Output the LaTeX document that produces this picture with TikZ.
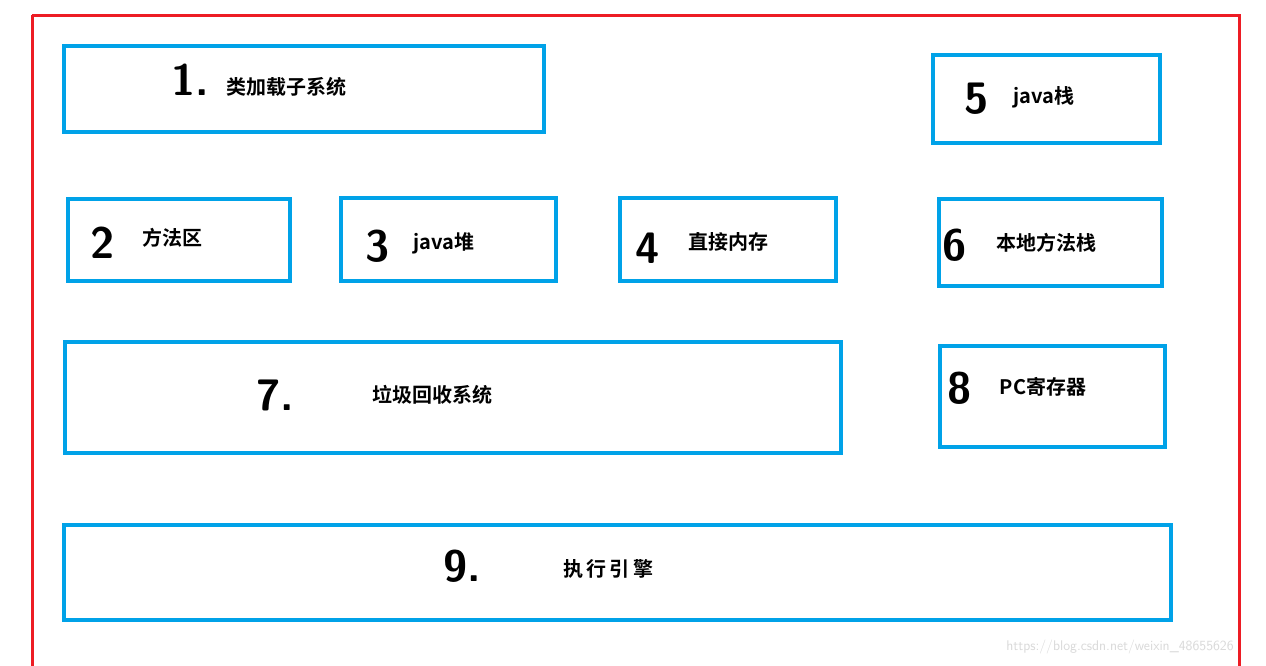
\documentclass[tikz,border=0pt]{standalone}
\usepackage{fontspec}
\newfontfamily\cjk{Noto Sans CJK SC}[BoldFont={* Bold}]
\definecolor{bl}{RGB}{0,162,232}
\definecolor{rd}{RGB}{237,28,36}
\begin{document}
\begin{tikzpicture}[x=1pt,y=-1pt,
  box/.style={draw=bl,line width=3.5pt},
  lab/.style={font=\cjk\bfseries\fontsize{20}{24}\selectfont,anchor=center},
  num/.style={font=\sffamily\bfseries\fontsize{44}{46}\selectfont,anchor=center}]
\useasboundingbox[fill=white] (0,0) rectangle (1266,665);
\draw[rd,line width=3pt] (32,15) -- (1239,15) -- (1239,670) (32,15) -- (32,670);
\draw[box] (64,46) rectangle (544,132);
\draw[box] (933,55) rectangle (1160,143);
\draw[box] (68,199) rectangle (290,281);
\draw[box] (341,198) rectangle (556,281);
\draw[box] (620,198) rectangle (836,281);
\draw[box] (939,199) rectangle (1162,286);
\draw[box] (65,342) rectangle (841,453);
\draw[box] (940,346) rectangle (1165,447);
\draw[box] (64,525) rectangle (1171,620);
\node[num] (n1) at (190,80) {1.};
\node[lab] (t1) at (286,87) {类加载子系统};
\node[num] (n5) at (977,99) {5};
\node[lab] (t5) at (1044,97) {java栈};
\node[num] (n2) at (103,243) {2};
\node[lab] (t2) at (172,238) {方法区};
\node[num] (n3) at (378,246) {3};
\node[lab] (t3) at (444,243) {java堆};
\node[num] (n4) at (648,248) {4};
\node[lab] (t4) at (728,242) {直接内存};
\node[num] (n6) at (955,245) {6};
\node[lab] (t6) at (1046,243) {本地方法栈};
\node[num] (n7) at (275,395) {7.};
\node[lab] (t7) at (432,395) {垃圾回收系统};
\node[num] (n8) at (960,388) {8};
\node[lab] (t8) at (1043,387) {PC寄存器};
\node[num] (n9) at (462,566) {9.};
\node[lab] (t9) at (608,569) {执\,行\,引\,擎};
\node[font=\sffamily\fontsize{14}{16}\selectfont,text=black!15] (wm) at (1120,647) {https://blog.csdn.net/weixin\_48655626};
\end{tikzpicture}
\end{document}
